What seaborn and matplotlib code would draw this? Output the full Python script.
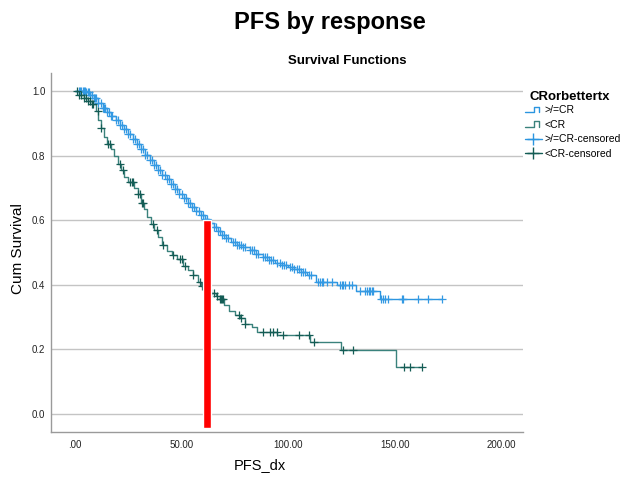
import numpy as np
import pandas as pd
import matplotlib
matplotlib.use("Agg")
import matplotlib.pyplot as plt
from matplotlib.lines import Line2D
from matplotlib.legend_handler import HandlerBase
import seaborn as sns

# ---------------- data ----------------
groups = [">/=CR", "<CR"]
legend_title = "CRorbettertx"

cr_times = [0, 5, 7, 9, 11, 13, 15, 17, 19, 21, 23, 25, 27, 29, 31, 33, 35, 37, 39, 41, 43,
            45, 47, 49, 51, 53, 55, 57, 59, 61, 63, 65, 67, 69, 71, 73, 76, 79, 82, 85, 88,
            91, 94, 97, 100, 103, 106, 109, 113, 123, 132, 143, 172.5]
cr_surv = [1.0, 0.998, 0.99, 0.978, 0.963, 0.95, 0.937, 0.924, 0.911, 0.897, 0.883, 0.868,
           0.852, 0.836, 0.82, 0.804, 0.788, 0.772, 0.757, 0.742, 0.727, 0.712, 0.697, 0.682,
           0.668, 0.654, 0.641, 0.629, 0.617, 0.605, 0.593, 0.58, 0.567, 0.555, 0.544, 0.534,
           0.525, 0.517, 0.508, 0.497, 0.486, 0.476, 0.469, 0.462, 0.455, 0.448, 0.441, 0.431,
           0.41, 0.40, 0.382, 0.357, 0.357]
cr_censor = [2, 2.5, 3, 3.5, 4, 4.5, 5, 6, 6.5, 7, 8, 9, 9.5, 10, 11, 12, 13, 13.5, 14, 15,
             16, 17, 17.5, 19, 20, 21, 22, 23, 24, 25, 26, 27, 28, 29, 30, 31, 32, 33, 34, 35,
             36, 37, 38, 39, 40, 41, 42, 43, 44, 45, 46, 47, 48, 49, 50, 51, 52, 53, 54, 55,
             56, 57, 58, 59, 60, 61, 62, 63, 64, 65, 66, 67, 68, 69, 70, 71, 72, 74, 75, 76,
             77, 78, 79, 80, 82, 83, 84, 85, 86, 88, 89, 90, 91, 92, 93, 95, 96, 97, 98, 99,
             101, 102, 103, 104, 105, 106, 107, 108, 110, 111, 114.2, 115, 115.8, 116.5,
             118.2, 120.5, 124.5, 125.3, 126, 126.8, 128.4, 130, 133.8, 136.2, 137, 137.8,
             138.5, 139.3, 140, 143.8, 144.6, 145.4, 147, 153.3, 154, 161, 165.5, 172.5]

lt_times = [0, 2, 4, 6, 8, 10, 11, 12, 13.5, 15, 17, 18.5, 20, 21.5, 23, 25, 27.5, 29.5, 31,
            32.5, 34, 35.5, 37, 39, 41, 43, 45.5, 48, 50.5, 53, 55.5, 57.5, 59, 61, 63, 66,
            68, 70, 72.5, 75, 77.5, 80, 83, 85.5, 95, 110.5, 125, 150.7, 163]
lt_surv = [1.0, 0.99, 0.98, 0.97, 0.96, 0.94, 0.91, 0.885, 0.86, 0.838, 0.82, 0.80, 0.775,
           0.755, 0.735, 0.718, 0.70, 0.682, 0.655, 0.635, 0.61, 0.59, 0.57, 0.548, 0.525,
           0.505, 0.492, 0.48, 0.46, 0.445, 0.43, 0.41, 0.397, 0.382, 0.374, 0.367, 0.357,
           0.337, 0.318, 0.307, 0.297, 0.28, 0.271, 0.255, 0.245, 0.224, 0.198, 0.146, 0.146]
lt_censor = [1, 2, 3, 4, 5, 6, 7, 8, 8.5, 10.8, 12.4, 15.6, 16.4, 21.1, 22.7, 25.8, 26.6,
             27.4, 29.7, 30.5, 31.3, 32, 36.8, 38.3, 41.5, 46.2, 49.3, 50, 51.6, 55.5, 58.7,
             59.4, 64, 65, 66.5, 68, 68.5, 69, 69.5, 77, 78, 80, 88.4, 91.5, 93, 94.7, 97.8,
             105.3, 110, 112.3, 125.8, 130.5, 154.5, 157.3, 163]

xticks = [0, 50, 100, 150, 200]
xtick_labels = [".00", "50.00", "100.00", "150.00", "200.00"]
yticks = [0.0, 0.2, 0.4, 0.6, 0.8, 1.0]
ytick_labels = ["0.0", "0.2", "0.4", "0.6", "0.8", "1.0"]

marker_x = [62]
marker_top = [0.60]
marker_bottom = [-0.044]

# ---------------- style ----------------
sns.set_theme(style="white")
plt.rcParams["font.family"] = ["Liberation Sans", "DejaVu Sans"]
plt.rcParams["text.color"] = "black"

blue = "#2B95E0"
green_line = "#3A827C"
green_mark = "#145C55"
blue_mark = "#3399E3"

fig = plt.figure(figsize=(6.27, 4.79), dpi=100)
ax = fig.add_axes([51 / 627, 1 - 432 / 479, (523 - 51) / 627, (432 - 73) / 479])

def step_lookup(times, surv, t):
    idx = np.searchsorted(np.asarray(times), np.asarray(t), side="right") - 1
    return np.asarray(surv)[np.clip(idx, 0, len(surv) - 1)]

df_cr = pd.DataFrame({"t": cr_times, "s": cr_surv})
df_lt = pd.DataFrame({"t": lt_times, "s": lt_surv})
cens_cr = pd.DataFrame({"t": cr_censor, "s": step_lookup(cr_times, cr_surv, cr_censor)})
cens_lt = pd.DataFrame({"t": lt_censor, "s": step_lookup(lt_times, lt_surv, lt_censor)})

# grid lines
for y in yticks:
    ax.axhline(y, color="#C4C4C4", lw=1.0, zorder=0)

sns.lineplot(data=df_cr, x="t", y="s", drawstyle="steps-post", estimator=None, sort=False,
             color=blue, lw=1.0, ax=ax, zorder=3)
sns.lineplot(data=df_lt, x="t", y="s", drawstyle="steps-post", estimator=None, sort=False,
             color=green_line, lw=1.0, ax=ax, zorder=3)
sns.scatterplot(data=cens_cr, x="t", y="s", marker="+", s=26, color=blue_mark,
                linewidth=0.9, ax=ax, zorder=4)
sns.scatterplot(data=cens_lt, x="t", y="s", marker="+", s=26, color=green_mark,
                linewidth=0.9, ax=ax, zorder=4)

heights = [t - b for t, b in zip(marker_top, marker_bottom)]
ax.bar(marker_x, heights, bottom=marker_bottom, width=3.7, color="#FF0000", zorder=5)

ax.set_xlim(-11.3, 210.3)
ax.set_ylim(-0.056, 1.057)
ax.set_xticks(xticks)
ax.set_xticklabels(xtick_labels)
ax.set_yticks(yticks)
ax.set_yticklabels(ytick_labels)
ax.tick_params(axis="both", length=0, labelsize=7, colors="#222222", pad=4)
ax.tick_params(axis="x", pad=6)
ax.set_xlabel("")
ax.set_ylabel("")
for side in ["top", "right"]:
    ax.spines[side].set_visible(False)
for side in ["left", "bottom"]:
    ax.spines[side].set_color("#9A9A9A")
    ax.spines[side].set_linewidth(1.0)

fig.text(330 / 627, 1 - 22 / 479, "PFS by response", ha="center", va="center",
         fontsize=17, fontweight="bold", color="black")
fig.text(347 / 627, 1 - 61 / 479, "Survival Functions", ha="center", va="center",
         fontsize=9.5, fontweight="bold", color="black")
fig.text(18 / 627, 1 - 249 / 479, "Cum Survival", ha="center", va="center",
         rotation=90, fontsize=11, color="black")
fig.text(260 / 627, 1 - 465 / 479, "PFS_dx", ha="center", va="center", fontsize=10.5,
         color="black")
fig.text(530 / 627, 1 - 97 / 479, legend_title, ha="left", va="center",
         fontsize=9.5, fontweight="bold", color="black")


class StepHandler(HandlerBase):
    def create_artists(self, legend, orig_handle, xdescent, ydescent, width, height,
                       fontsize, trans):
        x0 = -xdescent
        y0 = -ydescent + height * 0.15
        y1 = -ydescent + height * 0.85
        xs = [x0, x0 + width * 0.55, x0 + width * 0.55, x0 + width * 0.85, x0 + width * 0.85]
        ys = [y0, y0, y1, y1, y0]
        ln = Line2D(xs, ys, color=orig_handle.get_color(), lw=1.0, transform=trans)
        return [ln]


h1 = Line2D([], [], color=blue)
h2 = Line2D([], [], color=green_line)
h3 = Line2D([], [], color=blue, marker="+", markersize=8, markeredgewidth=1.0, lw=1.0)
h4 = Line2D([], [], color=green_mark, marker="+", markersize=8, markeredgewidth=1.0, lw=1.0)
labels = [groups[0], groups[1], groups[0] + "-censored", groups[1] + "-censored"]
leg = fig.legend([h1, h2, h3, h4], labels, loc="upper left",
                 bbox_to_anchor=(525 / 627, 1 - 105 / 479), frameon=False,
                 fontsize=7.5, handlelength=1.6, handletextpad=0.3,
                 labelspacing=0.45, borderaxespad=0, borderpad=0,
                 handler_map={h1: StepHandler(), h2: StepHandler()})

fig.savefig("out.png", dpi=100)
